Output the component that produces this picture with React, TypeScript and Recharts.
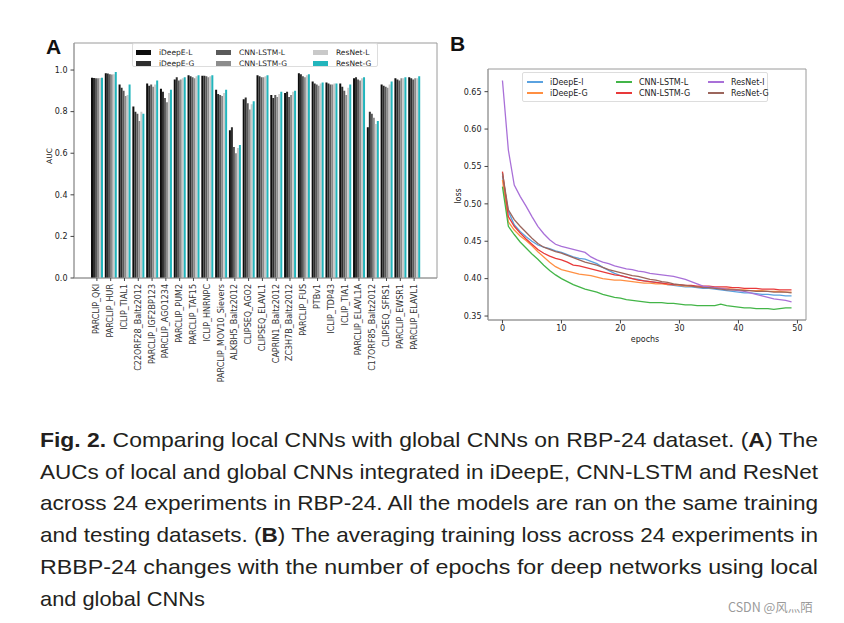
import { BarChart, Bar, LineChart, Line, XAxis, YAxis, Legend, CartesianGrid } from 'recharts'

// Panel A: AUC per experiment
const experiments = [
  'PARCLIP_QKI', 'PARCLIP_HUR', 'ICLIP_TIAL1', 'C22ORF28_Baltz2012', 'PARCLIP_IGF2BP123',
  'PARCLIP_AGO1234', 'PARCLIP_PUM2', 'PARCLIP_TAF15', 'ICLIP_HNRNPC', 'PARCLIP_MOV10_Sievers',
  'ALKBH5_Baltz2012', 'CLIPSEQ_AGO2', 'CLIPSEQ_ELAVL1', 'CAPRIN1_Baltz2012', 'ZC3H7B_Baltz2012',
  'PARCLIP_FUS', 'PTBv1', 'ICLIP_TDP43', 'ICLIP_TIA1', 'PARCLIP_ELAVL1A',
  'C17ORF85_Baltz2012', 'CLIPSEQ_SFRS1', 'PARCLIP_EWSR1', 'PARCLIP_ELAVL1',
]
const aucIDeepEL = [0.963, 0.985, 0.93, 0.825, 0.935, 0.91, 0.955, 0.975, 0.973, 0.905, 0.71, 0.86, 0.975, 0.88, 0.89, 0.985, 0.945, 0.94, 0.935, 0.96, 0.725, 0.93, 0.96, 0.965]
const aucIDeepEG = [0.962, 0.983, 0.915, 0.8, 0.925, 0.895, 0.965, 0.97, 0.972, 0.885, 0.725, 0.868, 0.97, 0.865, 0.895, 0.98, 0.935, 0.935, 0.92, 0.965, 0.8, 0.925, 0.955, 0.96]
const aucCnnLstmL = [0.96, 0.98, 0.9, 0.79, 0.93, 0.865, 0.95, 0.965, 0.97, 0.88, 0.63, 0.84, 0.965, 0.88, 0.87, 0.97, 0.93, 0.93, 0.9, 0.955, 0.79, 0.92, 0.95, 0.955]
const aucCnnLstmG = [0.96, 0.978, 0.875, 0.755, 0.92, 0.845, 0.955, 0.96, 0.965, 0.875, 0.6, 0.81, 0.965, 0.87, 0.88, 0.965, 0.925, 0.93, 0.88, 0.95, 0.77, 0.915, 0.96, 0.96]
const aucResNetL = [0.962, 0.98, 0.88, 0.8, 0.93, 0.89, 0.96, 0.97, 0.97, 0.89, 0.625, 0.835, 0.97, 0.885, 0.895, 0.975, 0.935, 0.935, 0.915, 0.96, 0.74, 0.93, 0.96, 0.96]
const aucResNetG = [0.963, 0.99, 0.93, 0.79, 0.95, 0.905, 0.965, 0.975, 0.975, 0.905, 0.64, 0.85, 0.975, 0.895, 0.9, 0.98, 0.94, 0.935, 0.93, 0.965, 0.755, 0.945, 0.965, 0.97]
const aucTicks = [0, 0.2, 0.4, 0.6, 0.8, 1.0]

// Panel B: training loss per epoch
const lossIDeepEL = [0.537, 0.49, 0.472, 0.463, 0.456, 0.45, 0.445, 0.442, 0.44, 0.437, 0.435, 0.432, 0.429, 0.427, 0.426, 0.423, 0.42, 0.415, 0.411, 0.407, 0.404, 0.402, 0.4, 0.399, 0.397, 0.396, 0.395, 0.394, 0.392, 0.391, 0.39, 0.389, 0.389, 0.388, 0.387, 0.387, 0.386, 0.385, 0.384, 0.383, 0.382, 0.381, 0.381, 0.38, 0.379, 0.379, 0.378, 0.378, 0.377, 0.377]
const lossIDeepEG = [0.532, 0.476, 0.465, 0.457, 0.451, 0.444, 0.436, 0.429, 0.422, 0.416, 0.412, 0.41, 0.408, 0.406, 0.405, 0.404, 0.402, 0.4, 0.399, 0.398, 0.398, 0.397, 0.396, 0.395, 0.394, 0.394, 0.393, 0.393, 0.392, 0.392, 0.391, 0.39, 0.39, 0.389, 0.389, 0.388, 0.388, 0.387, 0.387, 0.386, 0.385, 0.385, 0.384, 0.384, 0.384, 0.383, 0.383, 0.383, 0.382, 0.382]
const lossCnnLstmL = [0.523, 0.47, 0.459, 0.449, 0.441, 0.433, 0.426, 0.418, 0.411, 0.405, 0.4, 0.396, 0.392, 0.389, 0.386, 0.384, 0.382, 0.379, 0.377, 0.375, 0.374, 0.372, 0.371, 0.37, 0.369, 0.368, 0.368, 0.368, 0.367, 0.367, 0.366, 0.365, 0.365, 0.364, 0.364, 0.364, 0.364, 0.366, 0.364, 0.363, 0.362, 0.361, 0.361, 0.36, 0.36, 0.36, 0.359, 0.36, 0.361, 0.361]
const lossCnnLstmG = [0.543, 0.483, 0.47, 0.461, 0.453, 0.446, 0.439, 0.434, 0.43, 0.427, 0.425, 0.422, 0.418, 0.417, 0.415, 0.413, 0.411, 0.409, 0.407, 0.405, 0.404, 0.402, 0.4, 0.398, 0.397, 0.396, 0.395, 0.394, 0.393, 0.392, 0.392, 0.391, 0.391, 0.39, 0.39, 0.39, 0.389, 0.389, 0.389, 0.388, 0.388, 0.387, 0.387, 0.387, 0.386, 0.386, 0.386, 0.385, 0.385, 0.385]
const lossResNetL = [0.665, 0.572, 0.525, 0.51, 0.497, 0.483, 0.47, 0.46, 0.452, 0.446, 0.443, 0.441, 0.439, 0.437, 0.435, 0.429, 0.425, 0.422, 0.42, 0.417, 0.415, 0.413, 0.412, 0.41, 0.409, 0.407, 0.406, 0.405, 0.404, 0.403, 0.401, 0.399, 0.396, 0.393, 0.39, 0.389, 0.388, 0.387, 0.386, 0.385, 0.384, 0.383, 0.381, 0.379, 0.377, 0.375, 0.373, 0.372, 0.371, 0.369]
const lossResNetG = [0.541, 0.492, 0.479, 0.47, 0.462, 0.454, 0.447, 0.442, 0.439, 0.436, 0.434, 0.431, 0.428, 0.425, 0.422, 0.42, 0.418, 0.415, 0.412, 0.41, 0.408, 0.406, 0.404, 0.403, 0.401, 0.399, 0.398, 0.396, 0.395, 0.393, 0.392, 0.391, 0.39, 0.389, 0.388, 0.388, 0.387, 0.386, 0.385, 0.385, 0.385, 0.384, 0.384, 0.383, 0.383, 0.383, 0.382, 0.382, 0.382, 0.381]
const epochTicks = [0, 10, 20, 30, 40, 50]
const lossTicks = [0.35, 0.4, 0.45, 0.5, 0.55, 0.6, 0.65]

const BAR_SERIES = [
  { key: 'iDeepE-L', values: aucIDeepEL, color: '#0d0d0d' },
  { key: 'iDeepE-G', values: aucIDeepEG, color: '#2e2e2e' },
  { key: 'CNN-LSTM-L', values: aucCnnLstmL, color: '#5a5a5a' },
  { key: 'CNN-LSTM-G', values: aucCnnLstmG, color: '#8c8c8c' },
  { key: 'ResNet-L', values: aucResNetL, color: '#c9c9c9' },
  { key: 'ResNet-G', values: aucResNetG, color: '#22b5bc' },
]

const LINE_SERIES = [
  { key: 'iDeepE-l', values: lossIDeepEL, color: '#5aa2e0' },
  { key: 'iDeepE-G', values: lossIDeepEG, color: '#ff8f42' },
  { key: 'CNN-LSTM-L', values: lossCnnLstmL, color: '#43b548' },
  { key: 'CNN-LSTM-G', values: lossCnnLstmG, color: '#e8393a' },
  { key: 'ResNet-l', values: lossResNetL, color: '#a970d8' },
  { key: 'ResNet-G', values: lossResNetG, color: '#9c665c' },
]

const barData = experiments.map((name, i) => {
  const row: Record<string, string | number> = { name }
  BAR_SERIES.forEach((s) => { row[s.key] = s.values[i] })
  return row
})

const lineData = lossIDeepEL.map((_, epoch) => {
  const row: Record<string, number> = { epoch }
  LINE_SERIES.forEach((s) => { row[s.key] = s.values[epoch] })
  return row
})

const FONT = '"DejaVu Sans", sans-serif'
const FRAME = '#9a9a9a'
const tickStyle = { fontSize: 8, fill: '#222', fontFamily: FONT }

// box frame around the plot area (matplotlib spines)
const frameRows = ({ offset }: any) => [offset.top, offset.top + offset.height]
const frameCols = ({ offset }: any) => [offset.left, offset.left + offset.width]

function ExperimentTick({ x, y, payload }: any) {
  return (
    <text
      x={x}
      y={y}
      transform={`rotate(-90, ${x}, ${y})`}
      textAnchor="end"
      dominantBaseline="central"
      fontSize={8}
      fill="#333"
      fontFamily={FONT}
    >
      {payload.value}
    </text>
  )
}

function BarLegend() {
  const cols = [3, 83, 180]
  const rows = [9, 20]
  return (
    <div style={{ position: 'relative', width: 246, height: 24, border: '1px solid #ddd', borderRadius: 2, background: 'rgba(255,255,255,0.85)', boxSizing: 'border-box' }}>
      {BAR_SERIES.map((s, i) => {
        const left = cols[Math.floor(i / 2)]
        const top = rows[i % 2]
        return (
          <div key={s.key}>
            <div style={{ position: 'absolute', left, top: top - 3, width: 15, height: 5, background: s.color }} />
            <div style={{ position: 'absolute', left: left + 23, top: top - 5, fontSize: 7.5, lineHeight: '10px', fontFamily: FONT, color: '#222', whiteSpace: 'nowrap' }}>{s.key}</div>
          </div>
        )
      })}
    </div>
  )
}

function LineLegend() {
  const cols = [4, 93, 185]
  const rows = [9, 20]
  return (
    <div style={{ position: 'relative', width: 246, height: 30, border: '1px solid #ddd', borderRadius: 2, background: 'rgba(255,255,255,0.85)', boxSizing: 'border-box' }}>
      {LINE_SERIES.map((s, i) => {
        const left = cols[Math.floor(i / 2)]
        const top = rows[i % 2]
        return (
          <div key={s.key}>
            <div style={{ position: 'absolute', left, top: top - 1, width: 16, height: 2, background: s.color }} />
            <div style={{ position: 'absolute', left: left + 23, top: top - 5.5, fontSize: 8, lineHeight: '11px', fontFamily: FONT, color: '#222', whiteSpace: 'nowrap' }}>{s.key}</div>
          </div>
        )
      })}
    </div>
  )
}

export default function App() {
  return (
    <div style={{ position: 'absolute', left: 0, top: 0, width: 844, height: 623, background: '#fff', overflow: 'hidden' }}>
      <div style={{ position: 'absolute', left: 0, top: 0 }}>
        <BarChart width={450} height={410} data={barData} margin={{ top: 43, right: 13, bottom: 0, left: 0 }} barGap={0} barSize={2}>
          <CartesianGrid stroke={FRAME} horizontalCoordinatesGenerator={frameRows} verticalCoordinatesGenerator={frameCols} />
          <XAxis
            dataKey="name"
            interval={0}
            height={132}
            padding={{ left: 16, right: 16 }}
            tick={<ExperimentTick />}
            tickSize={3}
            tickMargin={3}
            axisLine={{ stroke: FRAME }}
            tickLine={{ stroke: '#444' }}
          />
          <YAxis
            width={74}
            domain={[0, 1.13]}
            ticks={aucTicks}
            allowDataOverflow
            tickFormatter={(v: number) => v.toFixed(1)}
            tick={tickStyle}
            tickSize={3.5}
            tickMargin={3}
            axisLine={{ stroke: FRAME }}
            tickLine={{ stroke: '#444' }}
          />
          {BAR_SERIES.map((s) => (
            <Bar key={s.key} dataKey={s.key} fill={s.color} isAnimationActive={false} />
          ))}
          <Legend
            layout="horizontal"
            verticalAlign="middle"
            align="center"
            content={() => <BarLegend />}
            wrapperStyle={{ left: 132, top: 43, width: 246, height: 24 }}
          />
        </BarChart>
      </div>

      <div style={{ position: 'absolute', left: 440, top: 0 }}>
        <LineChart width={404} height={360} data={lineData} margin={{ top: 69, right: 38, bottom: 10, left: 0 }}>
          <CartesianGrid stroke={FRAME} horizontalCoordinatesGenerator={frameRows} verticalCoordinatesGenerator={frameCols} />
          <XAxis
            dataKey="epoch"
            type="number"
            domain={[-2.45, 51.45]}
            ticks={epochTicks}
            allowDataOverflow
            height={30}
            tick={tickStyle}
            tickSize={3.5}
            tickMargin={2}
            axisLine={{ stroke: FRAME }}
            tickLine={{ stroke: '#444' }}
          />
          <YAxis
            width={48}
            domain={[0.3447, 0.6803]}
            ticks={lossTicks}
            allowDataOverflow
            tickFormatter={(v: number) => v.toFixed(2)}
            tick={tickStyle}
            tickSize={3.5}
            tickMargin={3}
            axisLine={{ stroke: FRAME }}
            tickLine={{ stroke: '#444' }}
          />
          {LINE_SERIES.map((s) => (
            <Line key={s.key} dataKey={s.key} stroke={s.color} strokeWidth={1.3} dot={false} type="linear" isAnimationActive={false} />
          ))}
          <Legend
            layout="horizontal"
            verticalAlign="middle"
            align="center"
            content={() => <LineLegend />}
            wrapperStyle={{ left: 82, top: 72, width: 246, height: 30 }}
          />
        </LineChart>
      </div>

      <svg width={844} height={623} style={{ position: 'absolute', left: 0, top: 0, pointerEvents: 'none' }}>
        <text x={46} y={54} fontSize={21} fontWeight="bold" fontFamily="Liberation Sans, Arial, sans-serif" fill="#111">A</text>
        <text x={450} y={51} fontSize={21} fontWeight="bold" fontFamily="Liberation Sans, Arial, sans-serif" fill="#111">B</text>
        <text x={52} y={156} transform="rotate(-90, 52, 156)" textAnchor="middle" fontSize={7.5} fontFamily={FONT} fill="#222">AUC</text>
        <text x={461} y={196} transform="rotate(-90, 461, 196)" textAnchor="middle" fontSize={8} fontFamily={FONT} fill="#222">loss</text>
        <text x={645} y={342} textAnchor="middle" fontSize={8} fontFamily={FONT} fill="#222">epochs</text>

        <g fontFamily="Liberation Sans, Arial, sans-serif" fontSize={21} fill="#231f20">
          <text x={40} y={447} textLength={778} lengthAdjust="spacingAndGlyphs">
            <tspan fontWeight="bold">Fig. 2.</tspan> Comparing local CNNs with global CNNs on RBP-24 dataset. (<tspan fontWeight="bold">A</tspan>) The
          </text>
          <text x={40} y={479} textLength={778} lengthAdjust="spacingAndGlyphs">AUCs of local and global CNNs integrated in iDeepE, CNN-LSTM and ResNet</text>
          <text x={40} y={510} textLength={778} lengthAdjust="spacingAndGlyphs">across 24 experiments in RBP-24. All the models are ran on the same training</text>
          <text x={40} y={542} textLength={778} lengthAdjust="spacingAndGlyphs">
            and testing datasets. (<tspan fontWeight="bold">B</tspan>) The averaging training loss across 24 experiments in
          </text>
          <text x={40} y={574} textLength={778} lengthAdjust="spacingAndGlyphs">RBBP-24 changes with the number of epochs for deep networks using local</text>
          <text x={40} y={606} textLength={165} lengthAdjust="spacingAndGlyphs">and global CNNs</text>
        </g>
        <text x={728} y={612} fontSize={12.5} fontFamily='"Noto Sans CJK SC", "Noto Sans", sans-serif' fill="#9a9a9a">CSDN @风灬陌</text>
      </svg>
    </div>
  )
}
